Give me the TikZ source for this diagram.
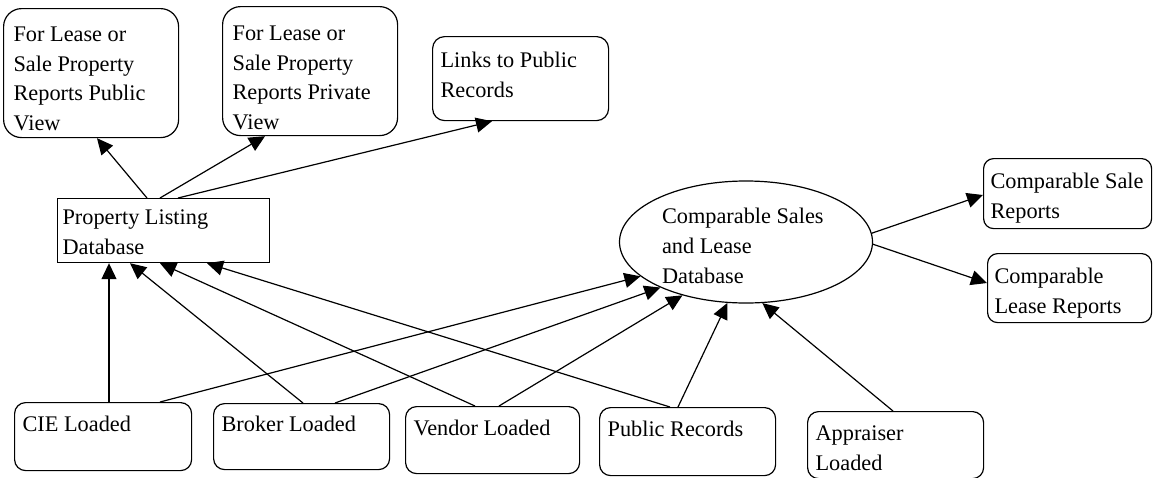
\documentclass[tikz,border=0pt]{standalone}
\usepackage{fontspec}
\setmainfont{Liberation Serif}
\usetikzlibrary{arrows.meta,shapes.geometric}

% Top-aligned text block of a fixed size: width, height, left pad, top pad, lines
\newcommand\cardtext[5]{%
  \begin{minipage}[t][#2][t]{#1}\raggedright\leftskip=#3\relax\parindent=0pt
  \vspace*{#4}\strut #5\end{minipage}}

\begin{document}
\begin{tikzpicture}[x=1pt,y=-1pt,
  every node/.style={font=\fontsize{22.3}{29.7}\selectfont},
  card/.style={draw, line width=1.2pt, rounded corners=#1, inner sep=0pt, anchor=north west},
  flatbox/.style={draw, line width=1.2pt, inner sep=0pt, anchor=north west},
  link/.style={line width=1.2pt, -{Triangle[length=16pt,width=15pt]}}]

\path[fill=white, use as bounding box] (0,0) rectangle (1154,477);

% report outputs of the listing database
\node[card=18pt] (b1) at (3,8)
  {\cardtext{175pt}{129pt}{10pt}{12pt}{For Lease or\\Sale Property\\Reports Public\\View}};
\node[card=18pt] (b2) at (222,6)
  {\cardtext{175pt}{129pt}{10pt}{13pt}{For Lease or\\Sale Property\\Reports Private\\View}};
\node[card=12pt] (b3) at (432,36)
  {\cardtext{176pt}{84pt}{8pt}{10pt}{Links to Public\\Records}};

% the two databases
\node[flatbox] (pl) at (57,198)
  {\cardtext{212pt}{64pt}{5pt}{5pt}{Property Listing\\Database}};
\node[ellipse, draw, line width=1.2pt, minimum width=253pt, minimum height=122pt, inner sep=0pt] (ell) at (746,242)
  {\cardtext{168pt}{84pt}{0pt}{3.2pt}{Comparable Sales\\and Lease\\Database}};

% comparable reports
\node[card=10pt] (cs) at (983,158)
  {\cardtext{168pt}{70pt}{7pt}{9pt}{Comparable Sale\\Reports}};
\node[card=10pt] (cl) at (987,253)
  {\cardtext{164pt}{69pt}{7pt}{9pt}{Comparable\\Lease Reports}};

% data sources
\node[card=11pt] (cie) at (14,402)  {\cardtext{177pt}{68pt}{8pt}{8pt}{CIE Loaded}};
\node[card=11pt] (brk) at (213,403) {\cardtext{176pt}{66pt}{8pt}{7pt}{Broker Loaded}};
\node[card=11pt] (ven) at (405,406) {\cardtext{174pt}{67pt}{8pt}{8pt}{Vendor Loaded}};
\node[card=11pt] (pr)  at (599,407) {\cardtext{176pt}{68pt}{8pt}{8pt}{Public Records}};
\node[card=11pt] (app) at (807,411) {\cardtext{176pt}{67pt}{8pt}{8pt}{Appraiser\\Loaded}};

% listing database to its reports
\draw[link] ([xshift=90pt]pl.north west)  -- ([xshift=94pt]b1.south west);
\draw[link] ([xshift=103pt]pl.north west) -- ([xshift=43pt]b2.south west);
\draw[link] ([xshift=121pt]pl.north west) -- ([xshift=60pt]b3.south west);

% sources feeding the listing database
\draw[link] ([xshift=95pt]cie.north west) -- ([xshift=52pt]pl.south west);
\draw[link] ([xshift=90pt]brk.north west) -- ([xshift=73pt]pl.south west);
\draw[link] ([xshift=70pt]ven.north west) -- ([xshift=103pt]pl.south west);
\draw[link] ([xshift=71pt]pr.north west)  -- ([xshift=150pt]pl.south west);

% sources feeding the comparables database
\draw[link] ([xshift=146pt]cie.north west) -- (ell.198);
\draw[link] ([xshift=122pt]brk.north west) -- (ell.208);
\draw[link] ([xshift=94pt]ven.north west)  -- (ell.220);
\draw[link] ([xshift=79pt]pr.north west)   -- (ell.253);
\draw[link] ([xshift=86pt]app.north west)  -- (ell.285);

% comparables database to its reports
\draw[link] (ell.4)   -- ([yshift=-37pt]cs.north west);
\draw[link] (ell.359) -- ([yshift=-30pt]cl.north west);

\end{tikzpicture}
\end{document}
